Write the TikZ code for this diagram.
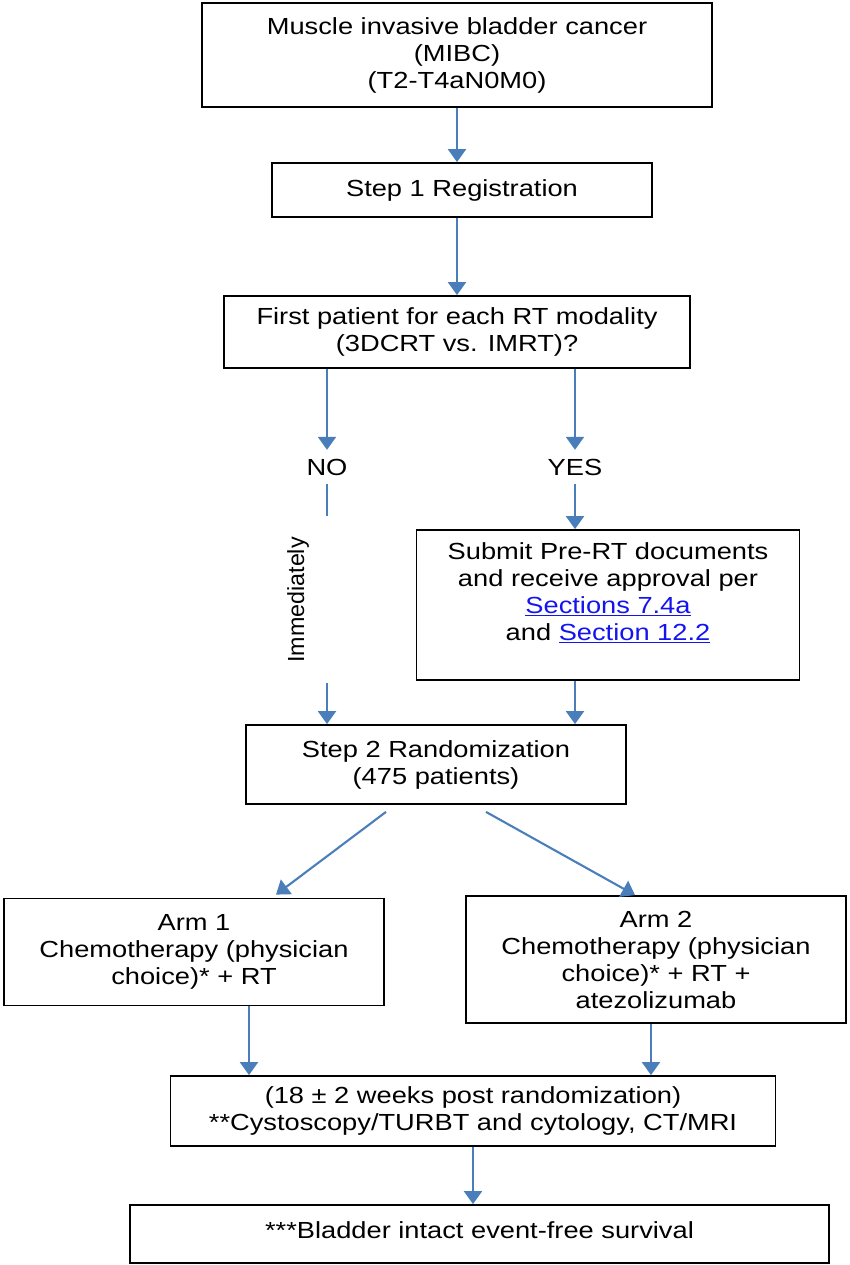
\documentclass[tikz,border=0pt]{standalone}
\usepackage{fontspec}
\setmainfont{Liberation Sans}[FakeStretch=1.17]
\newfontfamily\plainfont{Liberation Sans}
\usepackage{tikz}
\usetikzlibrary{positioning,calc,arrows.meta}

\definecolor{arrowblue}{RGB}{74,126,187}
\definecolor{linkblue}{RGB}{20,20,240}
\newcommand{\seclink}[1]{\textcolor{linkblue}{\underline{#1}}}

\begin{document}
\begin{tikzpicture}[x=1pt,y=-1pt,
    box/.style={draw=black,line width=1.8pt,inner sep=0pt,align=center,
        font=\fontsize{23.3}{27}\selectfont},
    label/.style={inner sep=0pt,minimum height=34pt,font=\fontsize{23.3}{27}\selectfont},
    conn/.style={draw=arrowblue,line width=2.1pt},
    arrow/.style={conn,-{Triangle[width=18pt,length=13pt]}}]
    \useasboundingbox (0,0) rectangle (849,1265);
    % boxes
    \node[box,minimum width=510pt,minimum height=104pt] (mibc) at (457,55)
        {Muscle invasive bladder cancer\\(MIBC)\\(T2-T4aN0M0)};
    \node[box,minimum width=380pt,minimum height=54pt] (reg) at (462,190)
        {Step 1 Registration};
    \node[box,minimum width=466pt,minimum height=72pt] (first) at (457,332)
        {First patient for each RT modality\\(3DCRT vs. IMRT)?};
    \node[label] (no) at (327,467) {NO};
    \node[label] (yes) at (575,467) {YES};
    \node[box,minimum width=383pt,minimum height=150pt] (submit) at (608,605)
        {Submit Pre-RT documents\\and receive approval per\\\seclink{Sections 7.4a}\\and \seclink{Section 12.2}\\\mbox{}};
    \node[rotate=90,inner sep=0pt,font=\plainfont\fontsize{23.3}{27}\selectfont] (immed) at (298,600) {Immediately};
    \node[box,minimum width=380pt,minimum height=79pt] (rand) at (436,764.5)
        {Step 2 Randomization\\(475 patients)};
    \node[box,minimum width=380pt,minimum height=107pt] (arm1) at (194,952)
        {Arm 1\\Chemotherapy (physician\\choice)* + RT};
    \node[box,minimum width=380pt,minimum height=127pt] (arm2) at (656,959.5)
        {Arm 2\\Chemotherapy (physician\\choice)* + RT +\\atezolizumab};
    \node[box,minimum width=605pt,minimum height=70pt] (assess) at (473,1111)
        {(18 ± 2 weeks post randomization)\\**Cystoscopy/TURBT and cytology, CT/MRI};
    \node[box,minimum width=699pt,minimum height=58pt,text height=33pt,text depth=25pt] (efs) at (479.5,1234)
        {***Bladder intact event-free survival};
    \coordinate (gaptop) at (327,516);
    \coordinate (gapbot) at (327,683);

    % connectors
    \draw[arrow] (mibc.south) -- (mibc.south |- reg.north);
    \draw[arrow] (reg.south -| first.north) -- (first.north);
    \draw[arrow] (first.south -| no) -- (no.north);
    \draw[arrow] (first.south -| yes) -- (yes.north);
    \draw[conn] (no.south) -- (gaptop);
    \draw[arrow] (gapbot) -- (gapbot |- rand.north);
    \draw[arrow] (yes.south) -- (yes.south |- submit.north);
    \draw[arrow] (submit.south -| yes) -- (rand.north -| yes);
    \draw[arrow] ([xshift=-50pt,yshift=-7pt]rand.south) -- ([xshift=82pt,yshift=3pt]arm1.north);
    \draw[arrow] ([xshift=50pt,yshift=-7pt]rand.south) -- ([xshift=-21pt]arm2.north);
    \draw[arrow] ([xshift=55pt]arm1.south) -- ([xshift=55pt]arm1.south |- assess.north);
    \draw[arrow] ([xshift=-5pt]arm2.south) -- ([xshift=-5pt]arm2.south |- assess.north);
    \draw[arrow] (assess.south) -- (assess.south |- efs.north);
\end{tikzpicture}
\end{document}
